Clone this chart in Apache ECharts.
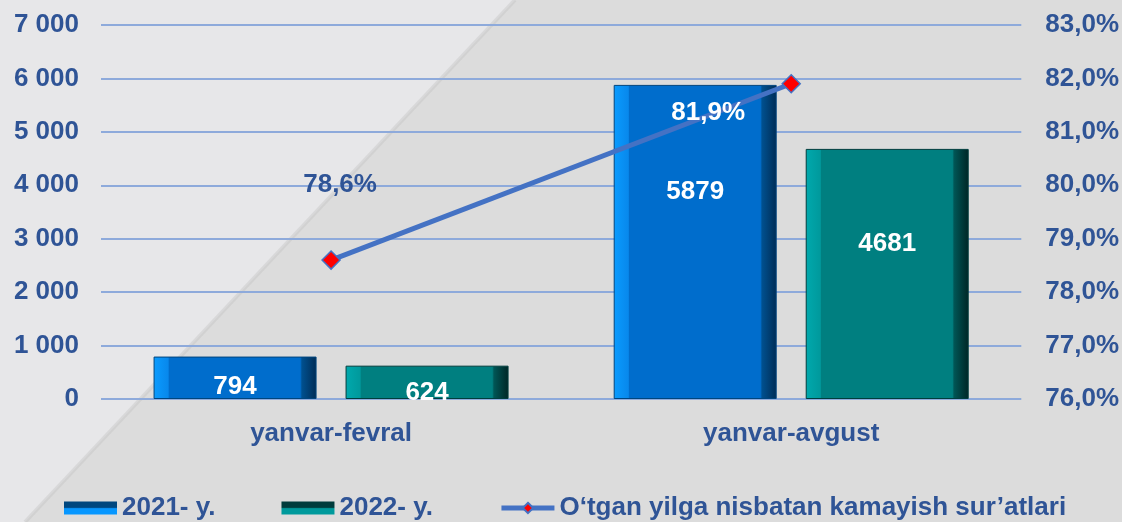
<!DOCTYPE html>
<html>
<head>
<meta charset="utf-8">
<script src="https://cdn.jsdelivr.net/npm/echarts@6/dist/echarts.min.js"></script>
<style>
  html, body { margin: 0; padding: 0; background: #dcdcdc; }
  #chart { width: 1122px; height: 522px; }
</style>
</head>
<body>
<div id="chart"></div>
<script>
// data
const categories = ['yanvar-fevral', 'yanvar-avgust']
const seriesNames = ['2021- y.', '2022- y.', 'O‘tgan yilga nisbatan kamayish sur’atlari']
const values2021 = [794, 5879]
const values2022 = [624, 4681]
const ratePct = [78.6, 81.9]

// label nudges (not data)
const offs2021 = [[0, 12], [0, 89]]
const offs2022 = [[0, 9], [0, 77]]
const rateOffs = [[9, -75], [-83, 29]]
const rateLabelColors = ['#2F5496', '#ffffff']

const textBlue = '#2F5496'
const font = '"Liberation Sans", Arial, sans-serif'

const chart = echarts.init(document.getElementById('chart'))

// bevel-like horizontal gradients
const blueFill = {
    type: 'linear', x: 0, y: 0, x2: 1, y2: 0,
    colorStops: [
        { offset: 0, color: '#0a9cff' },
        { offset: 0.09, color: '#0888ec' },
        { offset: 0.095, color: '#006dcc' },
        { offset: 0.9, color: '#006dcc' },
        { offset: 0.91, color: '#00508f' },
        { offset: 1, color: '#002c55' },
    ],
}
const tealFill = {
    type: 'linear', x: 0, y: 0, x2: 1, y2: 0,
    colorStops: [
        { offset: 0, color: '#00a9ad' },
        { offset: 0.09, color: '#00999c' },
        { offset: 0.095, color: '#007f80' },
        { offset: 0.9, color: '#007f80' },
        { offset: 0.91, color: '#005656' },
        { offset: 1, color: '#002525' },
    ],
}
// legend swatches: dark top, bright bottom
const vGrad = (top, bottom) => ({
    type: 'linear', x: 0, y: 0, x2: 0, y2: 1,
    colorStops: [
        { offset: 0, color: top },
        { offset: 0.45, color: top },
        { offset: 0.55, color: bottom },
        { offset: 1, color: bottom },
    ],
})

const barLabel = {
    show: true,
    position: 'insideTop',
    color: '#ffffff',
    fontFamily: font,
    fontWeight: 'bold',
    fontSize: 26,
}

const option = {
    backgroundColor: '#dcdcdc',
    animation: false,
    textStyle: { fontFamily: font },
    graphic: [
        {
            type: 'polygon',
            z: -10,
            silent: true,
            shape: { points: [[0, 0], [515, 0], [25, 522], [0, 522]] },
            style: { fill: '#e7e7e9' },
        },
        {
            type: 'polyline',
            z: -9,
            silent: true,
            shape: { points: [[515, 0], [25, 522]] },
            style: { stroke: 'rgba(190,190,190,0.35)', lineWidth: 4 },
        },
    ],
    legend: {
        left: 59,
        top: 490,
        itemWidth: 53,
        itemHeight: 13,
        itemGap: 66,
        textStyle: { color: textBlue, fontSize: 26, fontWeight: 'bold', fontFamily: font },
        data: [
            { name: seriesNames[0], icon: 'rect', itemStyle: { color: vGrad('#00477f', '#0797ff'), borderWidth: 0 } },
            { name: seriesNames[1], icon: 'rect', itemStyle: { color: vGrad('#003c3c', '#009a9c'), borderWidth: 0 } },
            { name: seriesNames[2], lineStyle: { width: 5 } },
        ],
    },
    grid: { left: 101, right: 100, top: 25, bottom: 123 },
    xAxis: {
        type: 'category',
        data: categories,
        axisLine: { show: false },
        axisTick: { show: false },
        axisLabel: {
            color: textBlue, fontSize: 26, fontWeight: 'bold', fontFamily: font, margin: 22,
        },
    },
    yAxis: [
        {
            type: 'value',
            min: 0,
            max: 7000,
            interval: 1000,
            axisLine: { show: false },
            axisTick: { show: false },
            splitLine: { lineStyle: { color: '#8eaadb', width: 2 } },
            axisLabel: {
                color: textBlue, fontSize: 26, fontWeight: 'bold', fontFamily: font, margin: 22,
                formatter: (v) => String(v).replace(/\B(?=(\d{3})+(?!\d))/g, ' '),
            },
        },
        {
            type: 'value',
            min: 76,
            max: 83,
            interval: 1,
            axisLine: { show: false },
            axisTick: { show: false },
            splitLine: { show: false },
            axisLabel: {
                color: textBlue, fontSize: 26, fontWeight: 'bold', fontFamily: font, margin: 24,
                formatter: (v) => v.toFixed(1).replace('.', ',') + '%',
            },
        },
    ],
    series: [
        {
            name: seriesNames[0],
            type: 'bar',
            barWidth: 163,
            barGap: '17.8%',
            itemStyle: { color: blueFill, borderColor: '#00457e', borderWidth: 1 },
            label: barLabel,
            data: values2021.map((v, i) => ({ value: v, label: { offset: offs2021[i] } })),
        },
        {
            name: seriesNames[1],
            type: 'bar',
            barWidth: 163,
            itemStyle: { color: tealFill, borderColor: '#003d3d', borderWidth: 1 },
            label: barLabel,
            data: values2022.map((v, i) => ({ value: v, label: { offset: offs2022[i] } })),
        },
        {
            name: seriesNames[2],
            type: 'line',
            yAxisIndex: 1,
            symbol: 'diamond',
            symbolSize: 18,
            lineStyle: { color: '#4472c4', width: 5 },
            itemStyle: { color: '#ff0000', borderColor: '#4472c4', borderWidth: 1.5 },
            z: 5,
            label: {
                show: true,
                position: 'inside',
                fontFamily: font,
                fontWeight: 'bold',
                fontSize: 26,
                formatter: (p) => p.value.toFixed(1).replace('.', ',') + '%',
            },
            data: ratePct.map((v, i) => ({
                value: v,
                label: { offset: rateOffs[i], color: rateLabelColors[i] },
            })),
        },
    ],
}

chart.setOption(option)
</script>
</body>
</html>
